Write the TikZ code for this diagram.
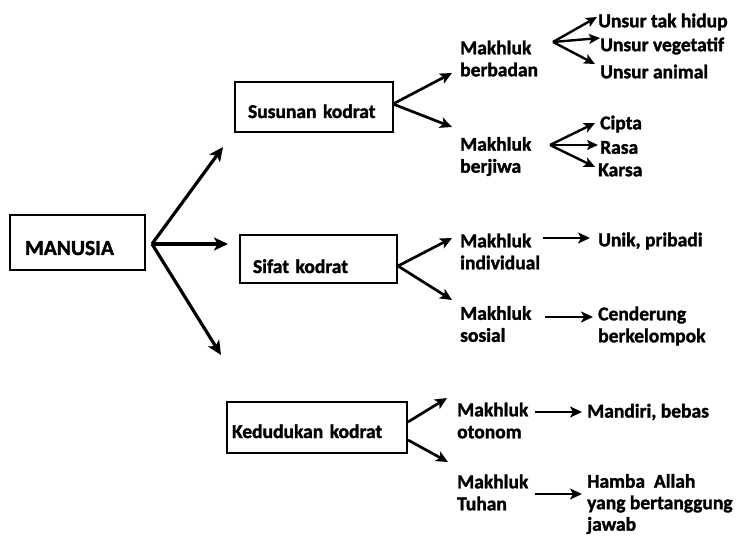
\documentclass[tikz,border=0pt]{standalone}
\usepackage{fontspec}
\setmainfont{Carlito}[BoldFont={Carlito Bold}, BoldFeatures={FakeBold=1.6}]
\usetikzlibrary{arrows.meta}
\begin{document}
\begin{tikzpicture}[x=1pt,y=-1pt,
  lbl/.style={font=\bfseries\fontsize{19.5}{22}\selectfont, inner sep=0pt, align=left, anchor=west},
  boxstyle/.style={draw, line width=1.4pt, inner sep=0pt, text depth=0pt, align=left, font=\bfseries\fontsize{19.5}{22}\selectfont},
  arrA/.style={line width=3.2pt, -{Stealth[length=14pt,width=13pt,inset=3.5pt]}},
  arrB/.style={line width=2.7pt, -{Stealth[length=12pt,width=11pt,inset=3pt]}},
  arrC/.style={line width=2.4pt, -{Stealth[length=11pt,width=10pt,inset=2.5pt]}},
]
\useasboundingbox (0,0) rectangle (752,537);

% boxes
\node[boxstyle, minimum width=135pt, minimum height=55pt, text width=105pt, text height=25pt, font=\bfseries\fontsize{21.5}{24}\selectfont] (manusia) at (77.5,242.5) {\mbox{MANUSIA}};
\node[boxstyle, minimum width=158pt, minimum height=50pt, text width=132pt, text height=22pt] (susunan) at (314,107) {\mbox{Susunan kodrat}};
\node[boxstyle, minimum width=157pt, minimum height=48pt, text width=131pt, text height=28pt] (sifat) at (318.5,259) {\mbox{Sifat kodrat}};
\node[boxstyle, minimum width=180pt, minimum height=51pt, text width=170pt, text height=21pt] (kedudukan) at (317,427.5) {\mbox{Kedudukan kodrat}};

% labels
\node[lbl] (berbadan) at (460,58.5) {Makhluk\\berbadan};
\node[lbl] (berjiwa) at (460,156.5) {Makhluk\\berjiwa};
\node[lbl] (takhidup) at (598,22) {Unsur tak hidup};
\node[lbl] (vegetatif) at (600,46) {Unsur vegetatif};
\node[lbl] (animal) at (600,71.5) {Unsur animal};
\node[lbl] (cipta) at (600,124) {Cipta};
\node[lbl] (rasa) at (600,147.5) {Rasa};
\node[lbl] (karsa) at (598,170) {Karsa};
\node[lbl] (individual) at (460,251.5) {Makhluk\\individual};
\node[lbl] (unik) at (598,241) {Unik, pribadi};
\node[lbl] (sosial) at (460,324) {Makhluk\\sosial};
\node[lbl] (cenderung) at (598,326) {Cenderung\\berkelompok};
\node[lbl] (otonom) at (457,420.5) {Makhluk\\otonom};
\node[lbl] (mandiri) at (587,412) {Mandiri, bebas};
\node[lbl] (tuhan) at (457,492.5) {Makhluk\\Tuhan};
\node[lbl, font=\bfseries\fontsize{19.5}{21.5}\selectfont] (hamba) at (587,504) {Hamba\ \ Allah\\yang bertanggung\\jawab};

% connector points
\coordinate (m0) at (152,244);
\coordinate (m1) at (223,147);
\coordinate (m2) at (228,244);
\coordinate (m3) at (221,355);
\coordinate (s0) at (393,104);
\coordinate (s1) at (452,73);
\coordinate (s2) at (452,127);
\coordinate (b0) at (553,42);
\coordinate (b1) at (597,17);
\coordinate (b2) at (600,38);
\coordinate (b3) at (595,64);
\coordinate (j0) at (550,145);
\coordinate (j1) at (595,123);
\coordinate (j2) at (598,145);
\coordinate (j3) at (595,167);
\coordinate (f0) at (398,266);
\coordinate (f1) at (452,238);
\coordinate (f2) at (452,300);
\coordinate (i0) at (543,238);
\coordinate (i1) at (590,238);
\coordinate (o0) at (545,317);
\coordinate (o1) at (593,317);
\coordinate (k0) at (408,422);
\coordinate (k1) at (447,398);
\coordinate (k2) at (408,440);
\coordinate (k3) at (448,462);
\coordinate (n0) at (535,412);
\coordinate (n1) at (582,412);
\coordinate (h0) at (535,494);
\coordinate (h1) at (582,494);

% arrows
\draw[arrA] (m0) -- (m1);
\draw[arrA] (m0) -- (m2);
\draw[arrA] (m0) -- (m3);
\draw[arrB] (s0) -- (s1);
\draw[arrB] (s0) -- (s2);
\draw[arrC] (b0) -- (b1);
\draw[arrC] (b0) -- (b2);
\draw[arrC] (b0) -- (b3);
\draw[arrC] (j0) -- (j1);
\draw[arrC] (j0) -- (j2);
\draw[arrC] (j0) -- (j3);
\draw[arrB] (f0) -- (f1);
\draw[arrB] (f0) -- (f2);
\draw[arrB] (i0) -- (i1);
\draw[arrB] (o0) -- (o1);
\draw[arrB] (k0) -- (k1);
\draw[arrB] (k2) -- (k3);
\draw[arrB] (n0) -- (n1);
\draw[arrB] (h0) -- (h1);
\end{tikzpicture}
\end{document}
